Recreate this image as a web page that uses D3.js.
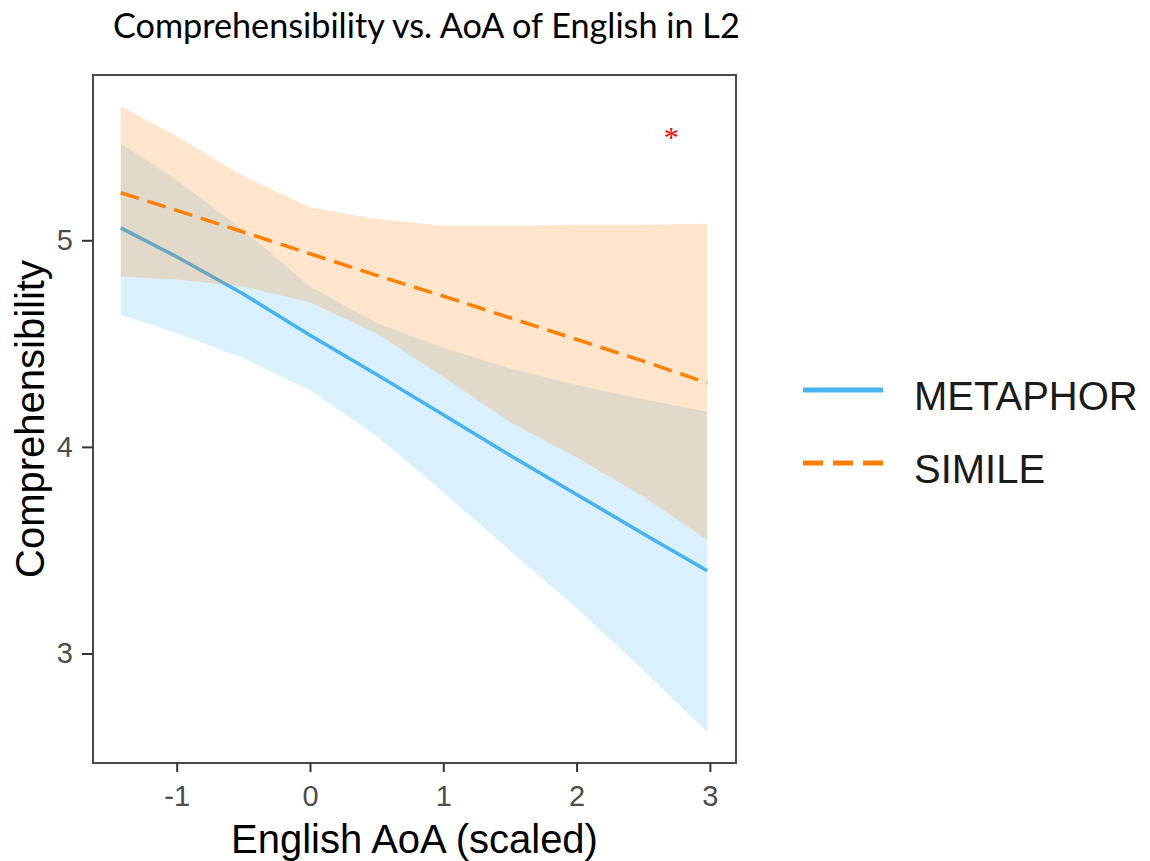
<!DOCTYPE html>
<html lang="en">
  <head>
    <meta charset="utf-8" />
    <title>Comprehensibility vs. AoA</title>
    <style>
      body { margin: 0; background: #fff; }
      svg { display: block; }
    </style>
  </head>
  <body>
    <div id="chart"></div>
    <script src="https://cdn.jsdelivr.net/npm/d3@7"></script>
    <script>
      // values (English AoA, scaled)
      const xVals = [-1.42, -1, -0.5, 0, 0.5, 1, 1.5, 2, 2.5, 2.98];

      const metaphorFit  = [5.06, 4.92, 4.74, 4.54, 4.35, 4.155, 3.96, 3.77, 3.58, 3.40];
      const metaphorLow  = [4.64, 4.55, 4.43, 4.275, 4.053, 3.78, 3.50, 3.22, 2.92, 2.62];
      const metaphorHigh = [5.47, 5.29, 5.05, 4.776, 4.60, 4.48, 4.38, 4.30, 4.23, 4.17];

      const simileFit  = [5.23, 5.145, 5.04, 4.935, 4.83, 4.73, 4.625, 4.52, 4.415, 4.31];
      const simileLow  = [4.825, 4.81, 4.776, 4.70, 4.55, 4.34, 4.12, 3.95, 3.76, 3.55];
      const simileHigh = [5.648, 5.503, 5.31, 5.16, 5.103, 5.07, 5.07, 5.075, 5.075, 5.08];

      const xTicks = [-1, 0, 1, 2, 3];
      const yTicks = [3, 4, 5];
      const groups = ["METAPHOR", "SIMILE"];

      const width = 1150, height = 861;
      const plotLeft = 93, plotRight = 736, plotTop = 75, plotBottom = 763;

      const svg = d3.select("#chart").append("svg")
        .attr("width", width).attr("height", height);

      const x = d3.scaleLinear().domain([-1.628, 3.196]).range([plotLeft, plotRight]);
      const y = d3.scaleLinear().domain([2.47, 5.80]).range([plotBottom, plotTop]);

      const series = [
        { name: groups[0], fit: metaphorFit, lo: metaphorLow, hi: metaphorHigh,
          color: "#45b3f2", dash: null },
        { name: groups[1], fit: simileFit, lo: simileLow, hi: simileHigh,
          color: "#ff7f00", dash: "19,9" }
      ];

      const area = d3.area()
        .x(d => x(d.x)).y0(d => y(d.lo)).y1(d => y(d.hi));
      const line = d3.line()
        .x(d => x(d.x)).y(d => y(d.v));

      // blue ribbon + line first, then orange ribbon over it (that is what makes the brown overlap)
      series.forEach(s => {
        const rib = xVals.map((v, i) => ({ x: v, lo: s.lo[i], hi: s.hi[i] }));
        const pts = xVals.map((v, i) => ({ x: v, v: s.fit[i] }));
        svg.append("path").datum(rib)
          .attr("d", area)
          .attr("fill", s.color)
          .attr("fill-opacity", 0.2);
        svg.append("path").datum(pts)
          .attr("d", line)
          .attr("fill", "none")
          .attr("stroke", s.color)
          .attr("stroke-width", 3.5)
          .attr("stroke-dasharray", s.dash);
      });

      // significance marker
      svg.append("text")
        .attr("x", x(2.71)).attr("y", y(5.525) + 15)
        .attr("text-anchor", "middle")
        .attr("font-family", "Liberation Serif, serif")
        .attr("font-size", 30)
        .attr("fill", "#ff0000")
        .text("*");

      // panel border
      svg.append("rect")
        .attr("x", plotLeft).attr("y", plotTop)
        .attr("width", plotRight - plotLeft).attr("height", plotBottom - plotTop)
        .attr("fill", "none")
        .attr("stroke", "#4a4a4a")
        .attr("stroke-width", 2);

      const xAxis = svg.append("g")
        .attr("transform", `translate(0,${plotBottom})`)
        .call(d3.axisBottom(x).tickValues(xTicks).tickSize(9).tickPadding(13)
          .tickFormat(d3.format("d")));
      const yAxis = svg.append("g")
        .attr("transform", `translate(${plotLeft},0)`)
        .call(d3.axisLeft(y).tickValues(yTicks).tickSize(11).tickPadding(9)
          .tickFormat(d3.format("d")));

      [xAxis, yAxis].forEach(g => {
        g.select(".domain").remove();
        g.selectAll(".tick line").attr("stroke", "#333").attr("stroke-width", 2);
        g.selectAll(".tick text")
          .attr("fill", "#4d4d4d")
          .attr("font-family", "Liberation Sans, Arial, sans-serif")
          .attr("font-size", 29);
      });
      xAxis.selectAll(".tick text").text(d => d < 0 ? "-" + Math.abs(d) : d);

      // axis titles
      svg.append("text")
        .attr("x", (plotLeft + plotRight) / 2).attr("y", 853)
        .attr("text-anchor", "middle")
        .attr("font-family", "Liberation Sans, Arial, sans-serif")
        .attr("font-size", 40)
        .attr("fill", "#000")
        .text("English AoA (scaled)");

      svg.append("text")
        .attr("transform", `translate(44,${(plotTop + plotBottom) / 2}) rotate(-90)`)
        .attr("text-anchor", "middle")
        .attr("font-family", "Liberation Sans, Arial, sans-serif")
        .attr("font-size", 40)
        .attr("fill", "#000")
        .text("Comprehensibility");

      // title
      const title = svg.append("text")
        .attr("x", 113).attr("y", 38)
        .attr("font-family", "Lato, 'Open Sans', sans-serif")
        .attr("font-size", 30)
        .attr("fill", "#000")
        .text("Comprehensibility vs. AoA of English in L2");
      const tw = title.node().getComputedTextLength();
      title.attr("font-size", 30 * 627 / tw);

      // legend
      const legend = svg.append("g");
      series.forEach((s, i) => {
        const ly = 390 + i * 73;
        legend.append("line")
          .attr("x1", 803).attr("x2", 883)
          .attr("y1", ly).attr("y2", ly)
          .attr("stroke", s.color)
          .attr("stroke-width", 5)
          .attr("stroke-dasharray", s.dash ? "20,10" : null);
        legend.append("text")
          .attr("x", 914).attr("y", ly + 20)
          .attr("font-family", "Liberation Sans, Arial, sans-serif")
          .attr("font-size", 40)
          .attr("fill", "#1a1a1a")
          .text(s.name);
      });
    </script>
  </body>
</html>
